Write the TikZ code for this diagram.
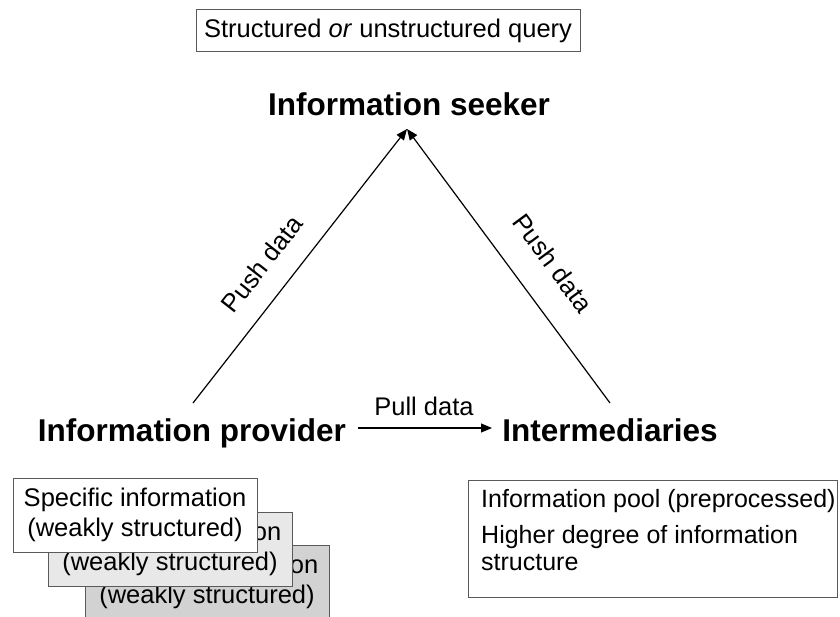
\documentclass[tikz,border=0pt]{standalone}
\usepackage{fontspec}
\setmainfont{Liberation Sans}
\usetikzlibrary{arrows.meta}
\definecolor{frame}{HTML}{5A5A5A}
\definecolor{sheetA}{HTML}{E8E8E8}
\definecolor{sheetB}{HTML}{D2D2D2}
\begin{document}
\begin{tikzpicture}[x=1pt,y=-1pt,
  reg/.style={font=\fontsize{25.5}{30}\selectfont, inner sep=0pt},
  small/.style={font=\fontsize{25}{30}\selectfont, inner sep=0pt},
  big/.style={font=\bfseries\fontsize{31.5}{36}\selectfont, inner sep=0pt},
  frm/.style={draw=frame, line width=1pt, inner sep=0pt},
  sheet/.style={frm, minimum width=244, minimum height=74},
  link/.style={line width=1.2pt, -{Triangle[length=11pt,width=9pt]}}]
\clip (0,0) rectangle (840,617);
\fill[white] (0,0) rectangle (840,617);

% query box
\node[frm, reg, minimum width=384, minimum height=42] (query) at (388,31)
  {Structured \textit{or} unstructured query};

% the three actors
\node[big, anchor=base] (seeker) at (409,116) {Information seeker};
\node[big, anchor=base] (prov) at (192,441) {Information provider};
\node[big, anchor=base] (inter) at (610,441) {Intermediaries};

% connector end points
\coordinate (tip) at (407,129);
\coordinate (provtop) at (193,403);
\coordinate (intertop) at (610,403);
\coordinate (pullstart) at (358,428);
\coordinate (pullend) at (492,428);

\draw[link] (provtop) -- (tip);
\draw[link] (intertop) -- (tip);
\draw[link] (pullstart) -- (pullend);

\node[reg, rotate=52] (pushL) at (262,264) {Push data};
\node[reg, rotate=-53.5] (pushR) at (553,263) {Push data};
\node[reg, anchor=base] (pull) at (424,415) {Pull data};

% stacked information sheets
\foreach \dx/\dy/\col/\nm in {72/67/sheetB/s3, 35/34/sheetA/s2, 0/0/white/s1}{
  \node[sheet, fill=\col, align=center, font=\fontsize{25.5}{30}\selectfont]
    (\nm) at (135+\dx,515+\dy) {Specific information\\(weakly structured)};
}

% information pool box
\node[frm, minimum width=369, minimum height=117, anchor=north west] (pool) at (468,480) {};
\node[small, anchor=base west] (poolA) at (481,507) {Information pool (preprocessed)};
\node[small, anchor=base west] (poolB) at (481,543) {Higher degree of information};
\node[small, anchor=base west] (poolC) at (481,570) {structure};
\end{tikzpicture}
\end{document}
